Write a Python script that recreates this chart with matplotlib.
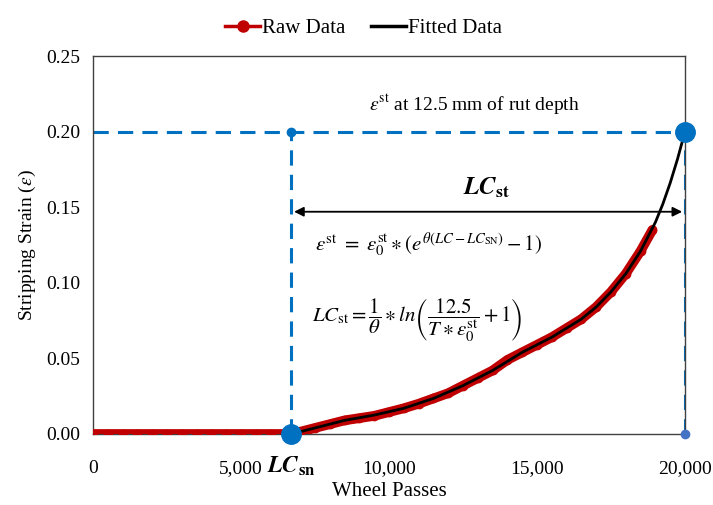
import matplotlib
matplotlib.use("Agg")
import matplotlib.pyplot as plt
from matplotlib.lines import Line2D
from matplotlib.ticker import FuncFormatter

plt.rcParams["font.family"] = ["Liberation Serif", "DejaVu Serif"]
plt.rcParams["mathtext.fontset"] = "stix"

# ── Data ──────────────────────────────────────────────────────────────────────
raw_passes = [0, 500, 1000, 1500, 2000, 2500, 3000, 3500, 4000, 4500, 5000,
              5500, 6000, 6500, 6700, 7000, 7500, 8000, 8500, 9000, 9500,
              10000, 10500, 11000, 11500, 12000, 12500, 13000, 13500, 14000,
              14500, 15000, 15500, 16000, 16500, 17000, 17500, 18000, 18500,
              18900]
raw_strain = [0.0, 0.0, 0.0, 0.0, 0.0, 0.0, 0.0, 0.0, 0.0, 0.0, 0.0,
              0.0, 0.0, 0.0, 0.0, 0.0015, 0.004, 0.0065, 0.009, 0.0105, 0.012,
              0.0145, 0.017, 0.020, 0.0235, 0.027, 0.032, 0.037, 0.042, 0.049,
              0.054, 0.059, 0.064, 0.070, 0.076, 0.084, 0.094, 0.106, 0.121,
              0.135]

fit_passes = [6700, 7500, 8500, 9500, 10500, 11500, 12500, 13500, 14500,
              15500, 16500, 17000, 17500, 18000, 18500, 19000, 19250, 19500,
              19750, 20000]
fit_strain = [0.0, 0.004, 0.009, 0.0125, 0.017, 0.0235, 0.032, 0.042, 0.054,
              0.064, 0.076, 0.084, 0.094, 0.106, 0.121, 0.140, 0.152, 0.166,
              0.182, 0.200]

lc_sn = 6700          # stripping number
lc_end = 20000        # passes at 12.5 mm rut depth
eps_end = 0.20        # strain at 12.5 mm rut depth
x_ticks = [0, 5000, 10000, 15000, 20000]
y_ticks = [0.00, 0.05, 0.10, 0.15, 0.20, 0.25]

RED = "#C00000"
BLUE = "#0070C0"

# ── Figure ────────────────────────────────────────────────────────────────────
fig = plt.figure(figsize=(7.13, 5.05), dpi=100)
ax = fig.add_axes([0.1304, 0.1406, 0.8303, 0.7485])

ax.plot(raw_passes, raw_strain, color=RED, lw=7, marker="o", ms=6,
        solid_capstyle="round", zorder=3)
ax.plot(fit_passes, fit_strain, color="black", lw=2, zorder=4)

# guide lines
dash = dict(color=BLUE, lw=2.2, ls=(0, (5, 3)), zorder=2)
ax.plot([0, lc_end], [eps_end, eps_end], **dash)
ax.plot([lc_sn, lc_sn], [0, eps_end], **dash)
ax.plot([lc_end, lc_end], [0, eps_end], **dash)

ax.plot([lc_sn], [0], "o", color=BLUE, ms=14, zorder=6, clip_on=False)
ax.plot([lc_end], [eps_end], "o", color=BLUE, ms=14, zorder=6, clip_on=False)
ax.plot([lc_sn], [eps_end], "o", color=BLUE, ms=6, zorder=6)
ax.plot([lc_end], [0], "o", color="#4472C4", ms=6, zorder=6, clip_on=False)

# LC_st span
ax.annotate("", xy=(lc_sn, 0.147), xytext=(lc_end, 0.147),
            arrowprops=dict(arrowstyle="<|-|>", color="black", lw=1.3,
                            mutation_scale=14), zorder=5)
ax.text(13300, 0.163, r"$\boldsymbol{LC}_{\mathbf{st}}$", ha="center",
        va="center", fontsize=18)

ax.text(12900, 0.218, r"$\varepsilon^{\rm st}$ at 12.5 mm of rut depth",
        ha="center", va="center", fontsize=14)

ax.text(7500, 0.125,
        r"$\varepsilon^{\mathrm{st}}\ =\ \varepsilon_0^{\mathrm{st}} \ast"
        r"\left(e^{\theta(LC - LC_{\mathrm{SN}})} - 1\right)$",
        ha="left", va="center", fontsize=15)
ax.text(7400, 0.075,
        r"$LC_{\mathrm{st}} = \dfrac{1}{\theta} \ast ln"
        r"\left(\dfrac{12.5}{T \ast \varepsilon_0^{\mathrm{st}}} + 1\right)$",
        ha="left", va="center", fontsize=15)

# axes
ax.set_xlim(0, 20000)
ax.set_ylim(0, 0.25)
ax.set_xticks(x_ticks)
ax.set_yticks(y_ticks)
ax.xaxis.set_major_formatter(FuncFormatter(lambda v, p: f"{int(v):,}"))
ax.yaxis.set_major_formatter(FuncFormatter(lambda v, p: f"{v:.2f}"))
ax.tick_params(length=0, labelsize=14)
ax.tick_params(axis="x", pad=19)
ax.tick_params(axis="y", pad=9)
for s in ax.spines.values():
    s.set_color("#404040")
    s.set_linewidth(1)

ax.text(lc_sn, -0.0135, r"$\boldsymbol{LC}_{\mathbf{sn}}$", ha="center",
        va="top", fontsize=17)

ax.set_xlabel("Wheel Passes", fontsize=15, labelpad=3)
ax.set_ylabel(r"Stripping Strain ($\varepsilon$)", fontsize=14, labelpad=6)

handles = [Line2D([], [], color=RED, lw=2.5, marker="o", ms=8),
           Line2D([], [], color="black", lw=2.5)]
fig.legend(handles, ["Raw Data", "Fitted Data"], loc="upper center",
           bbox_to_anchor=(0.51, 1.0), ncol=2, frameon=False, fontsize=15,
           handlelength=1.7, handletextpad=0.1, columnspacing=1.2)

fig.savefig("out.png", dpi=100, facecolor="white")
